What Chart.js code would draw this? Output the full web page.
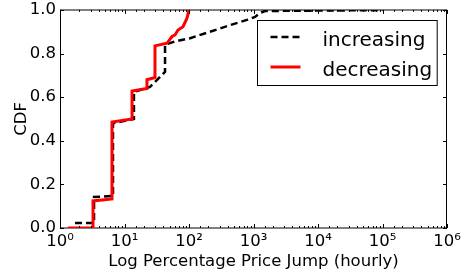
<!DOCTYPE html>
<html><head><meta charset="utf-8">
<script src="https://cdn.jsdelivr.net/npm/chart.js@4.4.0/dist/chart.umd.min.js"></script>
<style>html,body{margin:0;padding:0;background:#fff}canvas{display:block}</style>
</head><body>
<canvas id="c" width="467" height="279"></canvas>
<script>
// ---- data ----
const seriesNames = ['increasing', 'decreasing'];
const incX = [1.71, 3.37, 3.37, 6.63, 6.63, 14.0, 14.0, 24.9, 42.5, 42.5, 60, 104, 212, 432, 792, 1055, 1262, 1507, 100000];
const incY = [0.023, 0.023, 0.142, 0.147, 0.48, 0.50, 0.624, 0.647, 0.716, 0.84, 0.855, 0.87, 0.90, 0.93, 0.954, 0.968, 0.986, 0.995, 0.999];
const decX = [1.33, 3.25, 3.25, 6.4, 6.4, 13.1, 13.1, 22.3, 22.3, 29.7, 29.7, 45.6, 54.5, 60.7, 67.5, 80.7, 93.1, 100];
const decY = [0, 0, 0.124, 0.133, 0.486, 0.50, 0.628, 0.64, 0.68, 0.69, 0.835, 0.847, 0.878, 0.885, 0.908, 0.923, 0.962, 1.0];
const xTickValues = [1, 10, 100, 1000, 10000, 100000, 1000000];
const xTickLabels = ['10\u2070', '10\u00b9', '10\u00b2', '10\u00b3', '10\u2074', '10\u2075', '10\u2076'];
const yTickValues = [0, 0.2, 0.4, 0.6, 0.8, 1.0];
const yTickLabels = ['0.0', '0.2', '0.4', '0.6', '0.8', '1.0'];
const xTitle = 'Log Percentage Price Jump (hourly)';
const yTitle = 'CDF';

const FONT = "'DejaVu Sans', sans-serif";
const toPts = (xs, ys) => xs.map((x, i) => ({x: x, y: ys[i]}));

const isMajor = v => Math.abs(Math.log10(v) - Math.round(Math.log10(v))) < 1e-9;

const axesPlugin = {
  id: 'axesDeco',
  beforeDatasetsDraw(chart) {
    const ctx = chart.ctx;
    const {left, right, top, bottom} = chart.chartArea;
    ctx.save();
    ctx.strokeStyle = '#808080';
    ctx.lineWidth = 2;
    ctx.beginPath();
    ctx.moveTo(left, Math.round(top)); ctx.lineTo(right, Math.round(top));
    ctx.moveTo(left, Math.round(bottom)); ctx.lineTo(right, Math.round(bottom));
    ctx.stroke();
    ctx.restore();
  },
  afterDatasetsDraw(chart) {
    const ctx = chart.ctx;
    const {left, right, top, bottom} = chart.chartArea;
    const xs = chart.scales.x, ys = chart.scales.y;
    ctx.save();
    ctx.strokeStyle = '#000';
    ctx.lineWidth = 1;
    ctx.beginPath();
    xs.ticks.forEach(t => {
      const px = Math.round(xs.getPixelForValue(t.value)) + 0.5;
      const len = isMajor(t.value) ? 4 : 2;
      ctx.moveTo(px, bottom); ctx.lineTo(px, bottom - len);
      ctx.moveTo(px, top); ctx.lineTo(px, top + len);
    });
    yTickValues.forEach(v => {
      const py = Math.round(ys.getPixelForValue(v)) + 0.5;
      ctx.moveTo(left, py); ctx.lineTo(left + 4, py);
      ctx.moveTo(right, py); ctx.lineTo(right - 4, py);
    });
    ctx.moveTo(Math.round(left) + 0.5, top); ctx.lineTo(Math.round(left) + 0.5, bottom);
    ctx.moveTo(Math.round(right) - 0.5, top); ctx.lineTo(Math.round(right) - 0.5, bottom);
    ctx.stroke();
    ctx.restore();
  }
};

const legendPlugin = {
  id: 'boxLegend',
  afterDraw(chart) {
    const ctx = chart.ctx;
    const {right, top} = chart.chartArea;
    ctx.save();
    ctx.font = '20px ' + FONT;
    const tw = Math.max(...chart.data.datasets.map(d => ctx.measureText(d.label).width));
    const boxW = 13 + 30 + 22 + tw + 5;
    const boxH = 65;
    const bx = Math.round(right - 10 - boxW) + 0.5, by = Math.round(top + 10) + 0.5;
    ctx.fillStyle = '#fff';
    ctx.fillRect(bx, by, boxW, boxH);
    ctx.strokeStyle = '#000';
    ctx.lineWidth = 1;
    ctx.strokeRect(bx, by, boxW, boxH);
    chart.data.datasets.forEach((d, i) => {
      const ly = by + 16.5 + i * 30;
      ctx.beginPath();
      ctx.strokeStyle = d.borderColor;
      ctx.lineWidth = d.borderWidth;
      ctx.setLineDash(d.borderDash || []);
      ctx.moveTo(bx + 13, ly); ctx.lineTo(bx + 43, ly);
      ctx.stroke();
      ctx.setLineDash([]);
      ctx.fillStyle = '#000';
      ctx.textBaseline = 'alphabetic';
      ctx.fillText(d.label, bx + 65, by + 25 + i * 30);
    });
    ctx.restore();
  }
};

new Chart(document.getElementById('c'), {
  type: 'line',
  data: {
    datasets: [
      {label: seriesNames[0], data: toPts(incX, incY), borderColor: '#000', borderWidth: 2.5,
       borderDash: [7, 4], pointRadius: 0, fill: false, tension: 0, order: 1},
      {label: seriesNames[1], data: toPts(decX, decY), borderColor: '#ff0000', borderWidth: 3,
       pointRadius: 0, fill: false, tension: 0, order: 0}
    ]
  },
  options: {
    responsive: false,
    animation: false,
    devicePixelRatio: 1,
    layout: {padding: {left: 0, right: 20, top: 0, bottom: 0}},
    plugins: {legend: {display: false}, tooltip: {enabled: false}},
    scales: {
      x: {
        type: 'logarithmic', min: 1, max: 1000000,
        grid: {display: false, drawTicks: false}, border: {display: false},
        ticks: {
          autoSkip: false, maxRotation: 0, padding: 4, color: '#000',
          font: {family: FONT, size: 16.5},
          callback: (v) => {
            const i = xTickValues.findIndex(t => Math.abs(t - v) / t < 1e-9);
            return i >= 0 ? xTickLabels[i] : '';
          }
        },
        title: {display: true, text: xTitle, color: '#000', font: {family: FONT, size: 16.5}, padding: {top: 0, bottom: 7}},
        afterFit: s => { s.height = 51; }
      },
      y: {
        type: 'linear', min: 0, max: 1,
        grid: {display: true, drawOnChartArea: false, drawTicks: true, tickLength: 4, color: 'rgba(0,0,0,0)', tickColor: 'rgba(0,0,0,0)'},
        border: {display: false},
        ticks: {
          stepSize: 0.2, padding: 0, color: '#000',
          font: {family: FONT, size: 16.5},
          callback: (v) => {
            const i = yTickValues.findIndex(t => Math.abs(t - v) < 1e-9);
            return i >= 0 ? yTickLabels[i] : '';
          }
        },
        title: {display: true, text: yTitle, color: '#000', font: {family: FONT, size: 16.5}, padding: {top: 12, bottom: 0}},
        afterFit: s => { s.width = 60; }
      }
    }
  },
  plugins: [axesPlugin, legendPlugin]
});
</script>
</body></html>
